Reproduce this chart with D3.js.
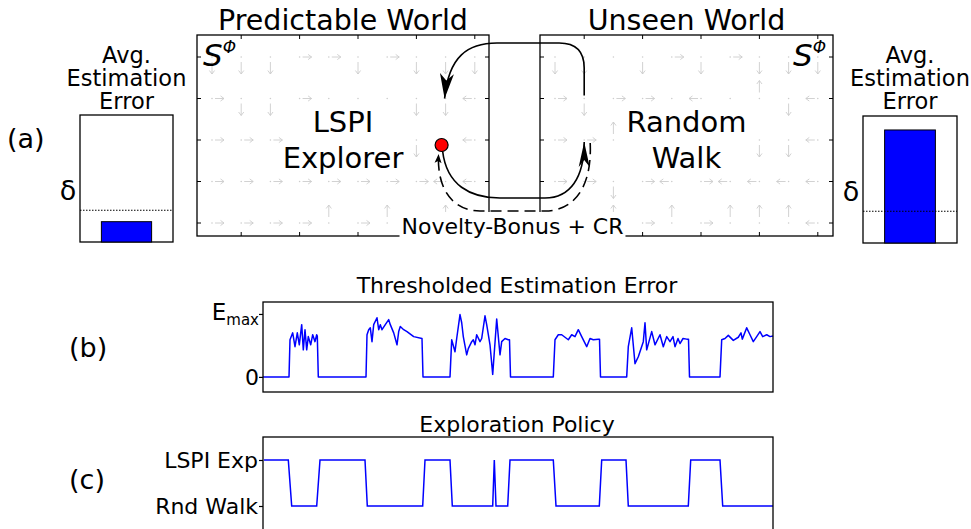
<!DOCTYPE html>
<html><head><meta charset="utf-8">
<script src="https://cdn.jsdelivr.net/npm/d3@7"></script>
<style>
body{margin:0;background:#fff}
svg{display:block}
text{font-family:"DejaVu Sans",sans-serif;fill:#000}
</style>
</head><body>
<svg id="chart" width="971" height="529"></svg>
<script>
// ---------------- data ----------------
const worldTitles = ["Predictable World", "Unseen World"];
const worldLabels = [["LSPI", "Explorer"], ["Random", "Walk"]];
const barTitle = ["Avg.", "Estimation", "Error"];
const avgError = [0.16, 0.89];      // predictable world, unseen world
const deltaThreshold = 0.25;
const panelLetters = ["(a)", "(b)", "(c)"];
const bridgeLabel = "Novelty-Bonus + CR";
// policy arrows per grid row (d=down,u=up,r=right,l=left,.=dot, space=none)
const gridPredictable = ["dddrrdrddd", "rddr...ddl", "rrr    d l", "rrrrrrrrll", "rrrrururu "];
const gridUnseen      = ["dd.drdrddd", "rdrr.l.udl", "rru    ddl", "rrdrlrllll", "  ururuuul"];

const errTitle = "Thresholded Estimation Error";
const errSteps  = [0,26,27,29.7,32,34.3,36.3,38.7,40.3,42,43.7,45.3,47.7,49.7,52,53.7,54.3,55.3,
  103,104,105.7,107.3,109,110.7,114,115.7,117.3,119,122.3,125.7,127.3,130.7,134,135.7,137.3,140.7,144,150.7,159,160,
  187,188.7,192,193.7,197,198.7,200.3,203.7,205.3,208.7,210.3,212,213.7,217,218.7,222,223.7,227,229.7,233.7,237,238.7,242,245.3,246.5,247.5,
  290.3,292,295.3,298.7,305.3,308.7,312,315.3,318.7,323.7,327,330.3,335.3,336.5,337.5,
  363.7,365.3,368.7,372,375.3,380.3,382,383.7,388.7,392,397,400.3,403.7,407,410,412,415,417,420,423.7,425.5,426.5,
  457,458.7,462,465.3,470.3,475.3,478,479.3,483.7,487,490.3,493.7,497,499.7,503.7,507,510];
const errValues = [0,0,.59,.70,.48,.70,.51,.83,.43,.75,.43,.64,.51,.67,.56,.67,.65,0,
  0,.67,.75,.78,.56,.83,.94,.75,.83,.75,.83,.91,.83,.70,.51,.72,.80,.75,.72,.64,.61,0,
  0,.59,.40,.61,.99,.86,.64,.35,.45,.56,.59,.51,.67,.56,.61,.97,.83,.51,.04,.92,.35,.56,.61,.59,.59,0,
  0,.59,.67,.67,.59,.67,.64,.75,.64,.48,.61,.59,.60,.60,0,
  0,.48,.78,.21,.32,.56,.86,.43,.72,.51,.67,.48,.64,.56,.64,.48,.61,.53,.61,.60,.60,0,
  0,.59,.61,.66,.58,.63,.70,.60,.78,.67,.56,.64,.72,.64,.67,.64,.65];
const errTickLabels = ["0", "E", "max"];

const policyTitle = "Exploration Policy";
const policySteps  = [1,25.3,28.7,53.7,57,102,104.3,159.7,162,187,189.3,229.7,231.3,233,244.7,247,290.3,293,336.3,338.7,363,365.3,425.3,427.7,457,459.7,510];
const policyValues = [1,1,0,0,1,1,0,0,1,1,0,0,1,0,0,1,1,0,0,1,1,0,0,1,1,0,0];
const policyTickLabels = ["Rnd Walk", "LSPI Exp"];

// ---------------- drawing ----------------
const svg = d3.select("#chart");
const defs = svg.append("defs");
const GRAY = "#cdcdcd";
function marker(id, L, W, notch, color) {
  defs.append("marker").attr("id", id).attr("viewBox", `${-L-2} ${-W} ${L+4} ${2*W}`)
    .attr("markerWidth", L+4).attr("markerHeight", 2*W).attr("refX", 0).attr("refY", 0)
    .attr("orient", "auto").attr("markerUnits", "userSpaceOnUse")
    .append("path").attr("d", `M0,0 L${-L},${-W/2} L${-L+notch},0 L${-L},${W/2}Z`).attr("fill", color);
}
marker("big", 25, 14, 7, "#000");
marker("big2", 25, 11, 7, "#000");
marker("small", 9, 7, 2, "#000");
defs.append("marker").attr("id", "gray").attr("viewBox", "-5 -4 6 8").attr("markerWidth", 6).attr("markerHeight", 8)
  .attr("refX", 0).attr("refY", 0).attr("orient", "auto").attr("markerUnits", "userSpaceOnUse")
  .append("path").attr("d", "M-3.5,-2.6 L0,0 L-3.5,2.6").attr("fill", "none").attr("stroke", GRAY).attr("stroke-width", 0.9);

// --- world boxes ---
const boxes = [{x0: 197, x1: 489, grid: gridPredictable, sCorner: "left"},
               {x0: 540, x1: 833, grid: gridUnseen, sCorner: "right"}];
const boxY0 = 35, boxY1 = 236;
const rowY = d3.scaleLinear().domain([0, 4]).range([57, 223]);

boxes.forEach((b, bi) => {
  const colX = d3.scaleLinear().domain([0, 9]).range([b.x0 + 15, b.x0 + 15 + 29.2 * 9]);
  b.colX = colX;
  const g = svg.append("g");
  g.append("rect").attr("x", b.x0).attr("y", boxY0).attr("width", b.x1 - b.x0).attr("height", boxY1 - boxY0)
    .attr("fill", "none").attr("stroke", "#000").attr("stroke-width", 1.3);
  const xt = [1, 3, 5, 7, 9].map(i => colX(i));
  const yt = [0, 1, 2, 3, 4].map(j => rowY(j));
  xt.forEach(x => {
    g.append("line").attr("x1", x).attr("x2", x).attr("y1", boxY0).attr("y2", boxY0 + 4).attr("stroke", "#000");
    g.append("line").attr("x1", x).attr("x2", x).attr("y1", boxY1).attr("y2", boxY1 - 4).attr("stroke", "#000");
  });
  yt.forEach(y => {
    g.append("line").attr("x1", b.x0).attr("x2", b.x0 + 4).attr("y1", y).attr("y2", y).attr("stroke", "#000");
    g.append("line").attr("x1", b.x1).attr("x2", b.x1 - 4).attr("y1", y).attr("y2", y).attr("stroke", "#000");
  });
  b.grid.forEach((row, j) => {
    row.split("").forEach((c, i) => {
      if (c === " ") return;
      const x = colX(i), y = rowY(j);
      g.append("circle").attr("cx", x).attr("cy", y).attr("r", 0.8).attr("fill", GRAY);
      let seg = null;
      if (c === "d") seg = [x, y + 5, x, y + 17];
      if (c === "u") seg = [x, y - 6, x, y - 18];
      if (c === "r") seg = [x + 3, y, x + 12, y];
      if (c === "l") seg = [x - 3, y, x - 12, y];
      if (seg) g.append("line").attr("x1", seg[0]).attr("y1", seg[1]).attr("x2", seg[2]).attr("y2", seg[3])
        .attr("stroke", GRAY).attr("stroke-width", 0.9).attr("marker-end", "url(#gray)");
    });
  });
  const cx = (b.x0 + b.x1) / 2;
  svg.append("text").attr("x", cx).attr("y", 30).attr("text-anchor", "middle").attr("font-size", 28.5).text(worldTitles[bi]);
  worldLabels[bi].forEach((t, k) => {
    svg.append("text").attr("x", cx).attr("y", 132 + 36 * k).attr("text-anchor", "middle").attr("font-size", 29).text(t);
  });
  const sx = b.sCorner === "left" ? b.x0 + 6 : b.x1 - 40;
  const st = svg.append("text").attr("x", sx).attr("y", 66).attr("font-family", "DejaVu Serif").attr("font-style", "italic");
  st.append("tspan").attr("font-size", 31).text("S");
  st.append("tspan").attr("font-size", 17).attr("dy", -13).text("Φ");
});

// --- label with white background ---
const lbl = svg.append("text").attr("x", 512.5).attr("y", 234).attr("text-anchor", "middle").attr("font-size", 22).text(bridgeLabel);
const bb = lbl.node().getBBox();
svg.insert("rect", "text:last-of-type").attr("x", bb.x - 2).attr("y", 212).attr("width", bb.width + 4).attr("height", 30).attr("fill", "#fff");
lbl.raise();

// --- connecting arrows ---
const L = boxes[0].colX, R = boxes[1].colX;
const tipTopX = L(8) - 1, tipTopY = rowY(1);
const startTopX = R(1), startTopY = rowY(1) - 3;
svg.append("path").attr("fill", "none").attr("stroke", "#000").attr("stroke-width", 1.6)
  .attr("d", `M${startTopX},${startTopY} L${startTopX},68 Q${startTopX},43 ${startTopX - 25},43 L497,43 C468,43 ${tipTopX + 4},56 ${tipTopX},${tipTopY}`)
  .attr("marker-end", "url(#big)");
const dot = {x: L(8) - 4, y: rowY(2) + 5};
const tipBX = R(1), tipBY = rowY(2) + 2;
svg.append("path").attr("fill", "none").attr("stroke", "#000").attr("stroke-width", 1.6)
  .attr("d", `M${dot.x + 1},${dot.y + 6} C${dot.x + 5},185 470,198 500,198 L545,198 C570,198 ${tipBX},178 ${tipBX},${tipBY}`)
  .attr("marker-end", "url(#big2)");
svg.append("path").attr("fill", "none").attr("stroke", "#000").attr("stroke-width", 1.6).attr("stroke-dasharray", "11,6")
  .attr("d", `M${tipBX + 6},${tipBY + 1} C${tipBX + 8},190 572,211 545,211 L480,211 C452,211 ${dot.x - 5},188 ${dot.x - 3},${dot.y + 9}`)
  .attr("marker-end", "url(#small)");
svg.append("circle").attr("cx", dot.x).attr("cy", dot.y).attr("r", 6.5).attr("fill", "#f00").attr("stroke", "#000").attr("stroke-width", 1.2);

// --- avg estimation error bars ---
const barBoxes = [{x0: 80, x1: 173, y0: 115, y1: 242, tx: 126.5, dx: 68},
                  {x0: 863, x1: 957, y0: 116, y1: 243, tx: 910, dx: 851}];
barBoxes.forEach((bx, i) => {
  const y = d3.scaleLinear().domain([0, 1]).range([bx.y1, bx.y0]);
  const xb = d3.scaleBand().domain(["v"]).range([bx.x0, bx.x1]).paddingInner(0.46).paddingOuter(0.23);
  svg.append("rect").attr("x", bx.x0).attr("y", bx.y0).attr("width", bx.x1 - bx.x0).attr("height", bx.y1 - bx.y0)
    .attr("fill", "#fff").attr("stroke", "#000").attr("stroke-width", 1.3);
  svg.append("rect").attr("x", xb("v")).attr("width", xb.bandwidth()).attr("y", y(avgError[i])).attr("height", y(0) - y(avgError[i]))
    .attr("fill", "#0000ff").attr("stroke", "#000").attr("stroke-width", 1);
  svg.append("line").attr("x1", bx.x0).attr("x2", bx.x1).attr("y1", y(deltaThreshold)).attr("y2", y(deltaThreshold))
    .attr("stroke", "#000").attr("stroke-width", 1.2).attr("stroke-dasharray", "1.5,1.5");
  barTitle.forEach((t, k) => svg.append("text").attr("x", bx.tx).attr("y", 63 + 23 * k).attr("text-anchor", "middle").attr("font-size", 22.5).text(t));
  svg.append("text").attr("x", bx.dx).attr("y", 200 + i).attr("text-anchor", "middle").attr("font-size", 27).text("δ");
});

svg.append("text").attr("x", 7).attr("y", 148).attr("font-size", 27).text(panelLetters[0]);
svg.append("text").attr("x", 69).attr("y", 357).attr("font-size", 27).text(panelLetters[1]);
svg.append("text").attr("x", 69).attr("y", 489).attr("font-size", 27).text(panelLetters[2]);

// --- panel (b) ---
const x = d3.scaleLinear().domain([0, 510]).range([263, 773]);
const yB = d3.scaleLinear().domain([-0.24, 1.19]).range([392, 302]);
svg.append("text").attr("x", 517).attr("y", 293).attr("text-anchor", "middle").attr("font-size", 22).text(errTitle);
svg.append("g").attr("transform", "translate(263,0)")
  .call(d3.axisLeft(yB).tickValues([0, 1]).tickSize(4).tickFormat(""))
  .call(g => g.select(".domain").remove())
  .call(g => g.selectAll("line").attr("stroke-width", 1.2));
svg.append("text").attr("x", 259).attr("y", yB(0) + 8).attr("text-anchor", "end").attr("font-size", 22).text(errTickLabels[0]);
const em = svg.append("text").attr("x", 259).attr("y", yB(1) + 6).attr("text-anchor", "end").attr("font-size", 23);
em.append("tspan").text(errTickLabels[1]);
em.append("tspan").attr("font-size", 15).attr("dy", 5).text(errTickLabels[2]);
const errData = errSteps.map((s, i) => [s, errValues[i]]);
svg.append("path").datum(errData).attr("fill", "none").attr("stroke", "#0000ff").attr("stroke-width", 1.5)
  .attr("stroke-linejoin", "round")
  .attr("d", d3.line().x(d => x(d[0])).y(d => yB(d[1])));
svg.append("rect").attr("x", 263).attr("y", 302).attr("width", 510).attr("height", 90).attr("fill", "none").attr("stroke", "#000").attr("stroke-width", 1.3);

// --- panel (c) ---
const yC = d3.scaleLinear().domain([-0.5, 1.5]).range([529, 437]);
svg.append("text").attr("x", 517).attr("y", 432).attr("text-anchor", "middle").attr("font-size", 22).text(policyTitle);
svg.append("g").attr("transform", "translate(263,0)")
  .call(d3.axisLeft(yC).tickValues([0, 1]).tickSize(4).tickFormat(""))
  .call(g => g.select(".domain").remove())
  .call(g => g.selectAll("line").attr("stroke-width", 1.2));
policyTickLabels.forEach((t, i) => svg.append("text").attr("x", 258).attr("y", yC(i) + 8).attr("text-anchor", "end").attr("font-size", 22).text(t));
const polData = policySteps.map((s, i) => [s, policyValues[i]]);
svg.append("path").datum(polData).attr("fill", "none").attr("stroke", "#0000ff").attr("stroke-width", 1.5)
  .attr("d", d3.line().x(d => x(d[0])).y(d => yC(d[1])));
svg.append("rect").attr("x", 263).attr("y", 437).attr("width", 510).attr("height", 95).attr("fill", "none").attr("stroke", "#000").attr("stroke-width", 1.3);
</script>
</body></html>
